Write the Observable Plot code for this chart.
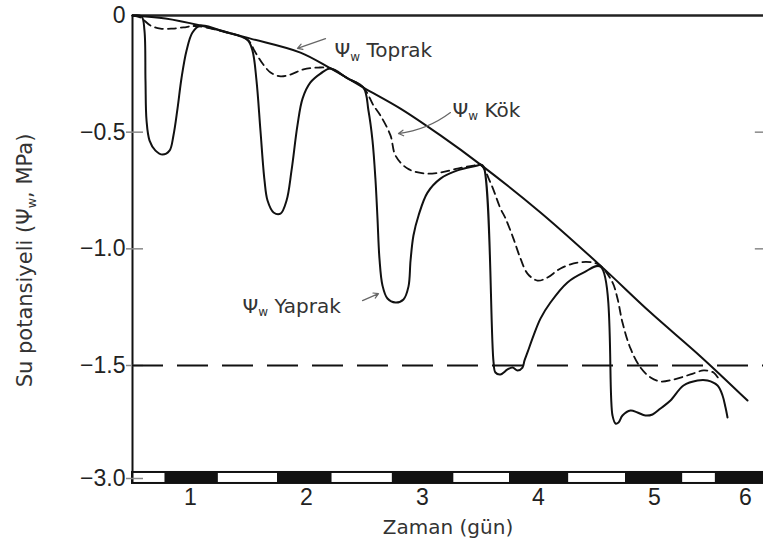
<!DOCTYPE html>
<html><head><meta charset="utf-8">
<script src="https://cdn.jsdelivr.net/npm/d3@7"></script>
<script src="https://cdn.jsdelivr.net/npm/@observablehq/plot@0.6"></script>
<style>
html,body{margin:0;padding:0;background:#fff}
#chart svg{display:block}
</style>
</head><body><div id="chart"></div>
<script>
// ---- data (time in days, water potential in MPa) ----
const soilT   = [0.5, 0.784, 1.086, 1.517, 1.948, 2.207, 2.491, 2.810, 3.155, 3.500, 4.017, 4.534, 4.966, 5.507, 6.024];
const soilPsi = [0, -0.013, -0.043, -0.099, -0.159, -0.227, -0.309, -0.399, -0.514, -0.639, -0.844, -1.072, -1.273, -1.461, -1.965];

const leafT = [0.5, 0.578, 0.603, 0.612, 0.621, 0.647, 0.698, 0.759, 0.819, 0.853, 0.888, 0.922, 0.966, 1.017, 1.086, 1.3,
  1.491, 1.534, 1.569, 1.603, 1.638, 1.664, 1.716, 1.776, 1.828, 1.871, 1.922, 1.966, 2.034, 2.121, 2.207, 2.35,
  2.491, 2.534, 2.569, 2.595, 2.612, 2.629, 2.655, 2.698, 2.767, 2.836, 2.879, 2.897, 2.922, 2.966, 3.043, 3.155, 3.302, 3.474, 3.5,
  3.526, 3.612, 3.629, 3.672, 3.733, 3.776, 3.819, 3.862, 3.879, 3.905, 3.957, 4.017, 4.103, 4.25, 4.388, 4.534,
  4.638, 4.664, 4.69, 4.724, 4.793, 4.853, 4.922, 4.983, 5.066, 5.176, 5.319, 5.474, 5.584, 5.694, 5.749, 5.782, 5.804];
const leafPsi = [0, -0.004, -0.064, -0.279, -0.45, -0.536, -0.579, -0.596, -0.579, -0.514, -0.399, -0.27, -0.15, -0.073, -0.043, -0.071,
  -0.105, -0.15, -0.279, -0.493, -0.707, -0.793, -0.844, -0.849, -0.793, -0.664, -0.471, -0.356, -0.287, -0.249, -0.227, -0.268,
  -0.309, -0.407, -0.536, -0.707, -0.87, -1.042, -1.157, -1.213, -1.23, -1.217, -1.162, -1.05, -0.943, -0.857, -0.759, -0.699, -0.664, -0.643, -0.639,
  -0.647, -1.483, -1.593, -1.619, -1.553, -1.527, -1.566, -1.527, -1.479, -1.444, -1.372, -1.299, -1.23, -1.144, -1.102, -1.076,
  -2.164, -2.27, -2.257, -2.164, -2.097, -2.124, -2.164, -2.15, -2.071, -1.965, -1.766, -1.699, -1.699, -1.766, -1.898, -2.058, -2.19];

const rootT = [0.5, 0.569, 0.655, 0.741, 0.845, 0.94, 1.043, 1.3,
  1.49, 1.56, 1.621, 1.69, 1.776, 1.862, 1.974, 2.103, 2.207, 2.35,
  2.491, 2.578, 2.638, 2.724, 2.767, 2.871, 3.009, 3.155, 3.302, 3.44, 3.5,
  3.586, 3.672, 3.716, 3.784, 3.845, 3.905, 3.991, 4.078, 4.19, 4.336, 4.474, 4.534,
  4.638, 4.681, 4.724, 4.793, 4.879, 4.966, 5.066, 5.209, 5.396, 5.54, 5.65, 5.705];
const rootPsi = [0, -0.009, -0.043, -0.056, -0.056, -0.051, -0.045, -0.071,
  -0.103, -0.159, -0.206, -0.244, -0.261, -0.253, -0.231, -0.223, -0.227, -0.268,
  -0.309, -0.386, -0.429, -0.514, -0.6, -0.656, -0.677, -0.673, -0.656, -0.643, -0.639,
  -0.716, -0.827, -0.87, -0.956, -1.042, -1.106, -1.136, -1.123, -1.084, -1.059, -1.059, -1.072,
  -1.144, -1.213, -1.316, -1.427, -1.527, -1.659, -1.712, -1.686, -1.619, -1.566, -1.593, -1.673];

const nightStart = [0.78, 1.75, 2.74, 3.75, 4.75, 5.67];
const nightEnd   = [1.24, 2.22, 3.27, 4.26, 5.31, 6.2];

const dayTicks = [1, 2, 3, 4, 5, 6];
const dayTickLabels = ["1", "2", "3", "4", "5", "6"];
const psiTicks = [0, -0.5, -1.0, -1.5, -3.0];
const psiTickLabels = ["0", "\u22120.5", "\u22121.0", "\u22121.5", "\u22123.0"];
const wiltingPsi = -1.5;

const labelText = ["\u03A8w Toprak", "\u03A8w K\u00F6k", "\u03A8w Yaprak"];
const labelT    = [2.241, 3.259, 1.448];
const labelPsi  = [-0.150, -0.407, -1.247];
const arrowFromT   = [2.164, 3.241, 2.483];
const arrowFromPsi = [-0.099, -0.416, -1.222];
const arrowToT     = [1.922, 2.793, 2.621];
const arrowToPsi   = [-0.141, -0.506, -1.192];

const xTitle = "Zaman (g\u00FCn)";
const yTitle = "Su potansiyeli (\u03A8w, MPa)";

// ---- tables ----
const soil = soilT.map((t, i) => ({t, psi: soilPsi[i]}));
const leaf = leafT.map((t, i) => ({t, psi: leafPsi[i]}));
const root = rootT.map((t, i) => ({t, psi: rootPsi[i]}));
const nights = nightStart.map((s, i) => ({s, e: nightEnd[i]}));
const labels = labelText.map((text, i) => ({text, t: labelT[i], psi: labelPsi[i]}));
const arrows = arrowFromT.map((t1, i) => ({t1, p1: arrowFromPsi[i], t2: arrowToT[i], p2: arrowToPsi[i]}));
const xTickTable = dayTicks.map((v, i) => ({v, label: dayTickLabels[i]}));
const yTickTable = psiTicks.map((v, i) => ({v, label: psiTickLabels[i]}));

const xMin = 0.5, xMax = 6.2, yBottom = -3.066, yBarTop = -2.92;
const tickFont = "'Liberation Sans', Arial, sans-serif";
const labelFont = "'DejaVu Sans', sans-serif";

const chart = Plot.plot({
  width: 763, height: 549,
  marginTop: 15, marginRight: 0, marginBottom: 66, marginLeft: 132,
  style: {fontFamily: tickFont, color: "#222", background: "#fff"},
  x: {type: "linear", domain: [0.5, 5, 6.2], range: [132, 654, 763], axis: null},
  y: {type: "linear", domain: [-3, -1.5, 0], range: [478, 365, 15], axis: null},
  marks: [
    // day / night bar
    Plot.rect([0], {x1: xMin, x2: xMax, y1: yBottom, y2: yBarTop, fill: "#fff", stroke: "#111", strokeWidth: 2}),
    Plot.rect(nights, {x1: "s", x2: "e", y1: yBottom, y2: yBarTop, fill: "#111"}),
    // frame lines
    Plot.ruleX([xMin], {y1: yBottom, y2: 0, stroke: "#111", strokeWidth: 2}),
    Plot.ruleY([0], {x1: xMin, x2: xMax, stroke: "#222", strokeWidth: 2.5}),
    Plot.ruleY(psiTicks.slice(1), {x1: 0.448, x2: 0.595, stroke: "#888", strokeWidth: 1.5}),
    Plot.ruleY([-0.5, -1.0], {x1: 6.11, x2: xMax, stroke: "#888", strokeWidth: 1.5}),
    // wilting-point line
    Plot.ruleY([wiltingPsi], {x1: xMin, x2: xMax, stroke: "#111", strokeWidth: 2, strokeDasharray: "31,14"}),
    // curves
    Plot.line(soil, {x: "t", y: "psi", curve: "catmull-rom", stroke: "#111", strokeWidth: 2}),
    Plot.line(root, {x: "t", y: "psi", curve: "catmull-rom", stroke: "#111", strokeWidth: 1.8, strokeDasharray: "8,5"}),
    Plot.line(leaf, {x: "t", y: "psi", curve: "catmull-rom", stroke: "#111", strokeWidth: 2}),
    // annotations
    Plot.arrow(arrows.filter((d, i) => i !== 1), {x1: "t1", y1: "p1", x2: "t2", y2: "p2", stroke: "#666", strokeWidth: 1.2, headLength: 7}),
    Plot.arrow(arrows.filter((d, i) => i === 1), {x1: "t1", y1: "p1", x2: "t2", y2: "p2", bend: 15, stroke: "#666", strokeWidth: 1.2, headLength: 7}),
    Plot.text(labels, {x: "t", y: "psi", text: "text", textAnchor: "start", fontSize: 20, fontFamily: labelFont, fill: "#333"}),
    // tick labels (positioned through the scales)
    Plot.text(xTickTable, {x: "v", text: "label", frameAnchor: "bottom", dy: 21, fontSize: 23, fontFamily: tickFont, fill: "#222"}),
    Plot.text(yTickTable, {y: "v", text: "label", frameAnchor: "left", textAnchor: "end", dx: -7, fontSize: 23, fontFamily: tickFont, fill: "#222"}),
    // axis titles
    Plot.text([xTitle], {text: d => d, frameAnchor: "bottom", textAnchor: "middle", dy: 50, fontSize: 20, fontFamily: labelFont, fill: "#333"}),
    Plot.text([yTitle], {text: d => d, frameAnchor: "left", textAnchor: "middle", dx: -107, dy: 11, rotate: -90, fontSize: 21, fontFamily: labelFont, fill: "#333"})
  ]
});

// subscript "w" after Ψ
d3.select(chart).selectAll("text").each(function() {
  const s = this.textContent;
  const k = s.indexOf("\u03A8w");
  if (k < 0) return;
  const el = d3.select(this);
  el.text(null);
  el.append("tspan").text(s.slice(0, k + 1));
  el.append("tspan").attr("font-size", "0.6em").attr("dy", "0.3em").text("w");
  el.append("tspan").attr("dy", "-0.18em").text(s.slice(k + 2));
});

document.getElementById("chart").appendChild(chart);
</script></body></html>
